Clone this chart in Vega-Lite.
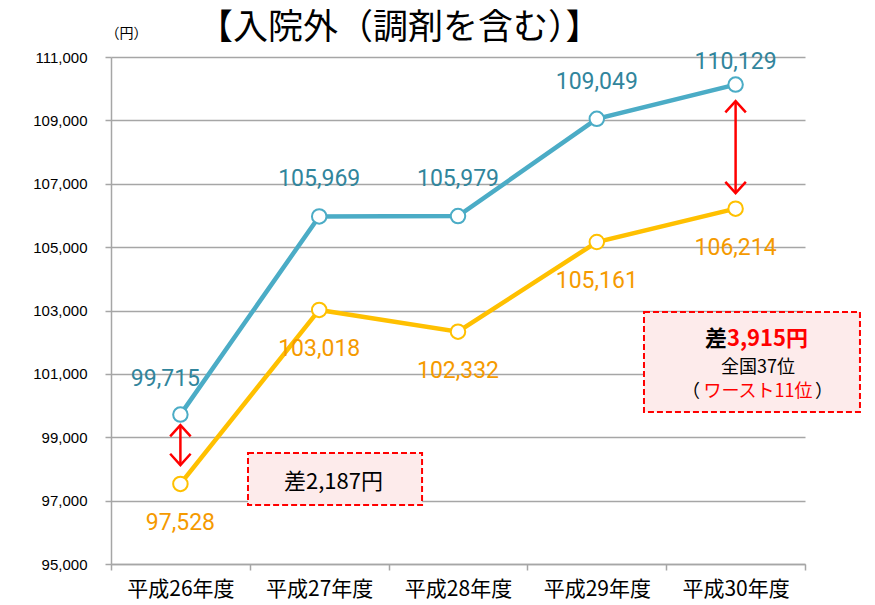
{
  "$schema": "https://vega.github.io/schema/vega-lite/v6.json",
  "width": 694,
  "height": 507,
  "autosize": "none",
  "padding": {"left": 111, "top": 57, "right": 70, "bottom": 41},
  "background": "white",
  "title": {"text": "【入院外（調剤を含む）】", "anchor": "start", "frame": "group", "dx": 87, "offset": -20, "fontSize": 35, "font": "Noto Sans CJK JP", "fontWeight": "normal", "color": "black"},
  "config": {"view": {"stroke": null}, "font": "Roboto"},
  "encoding": {
    "x": {"field": "idx", "type": "quantitative", "scale": {"domain": [-0.5, 4.5], "nice": false, "zero": false},
      "axis": {"title": null, "values": [-0.5, 0.5, 1.5, 2.5, 3.5, 4.5],
        "labelExpr": "datum.value < 0 ? '平成26年度' : datum.value < 1 ? '平成27年度' : datum.value < 2 ? '平成28年度' : datum.value < 3 ? '平成29年度' : datum.value < 4 ? '平成30年度' : ''",
        "labelOffset": 69.4, "labelFlush": false, "labelOverlap": false, "labelAlign": "center", "labelAngle": 0,
        "tickSize": 6, "tickColor": "#A6A6A6", "tickWidth": 1.5, "domainColor": "#A6A6A6", "domainWidth": 1.5,
        "labelFont": "Noto Sans CJK JP", "labelFontSize": 21, "labelColor": "black", "labelPadding": 8, "grid": false}},
    "y": {"field": "value", "type": "quantitative", "scale": {"domain": [95000, 111000], "nice": false, "zero": false},
      "axis": {"title": "（円）", "titleAngle": 0, "titleAlign": "left", "titleBaseline": "middle", "titleX": -6, "titleY": -24,
        "titleFont": "Noto Sans CJK JP", "titleFontSize": 14, "titleFontWeight": "normal", "titleColor": "black",
        "values": [95000, 97000, 99000, 101000, 103000, 105000, 107000, 109000, 111000],
        "labelExpr": "format(datum.value, ',')",
        "labelFont": "Liberation Sans", "labelFontSize": 15, "labelColor": "black",
        "labelPadding": 18, "tickSize": 6, "tickColor": "#A6A6A6", "tickWidth": 1.5, "domainColor": "#A6A6A6", "domainWidth": 1.5, "grid": true, "gridColor": "#A6A6A6", "gridWidth": 1.5}}
  },
  "layer": [
    {
      "data": {"values": [
        {"year": "平成26年度", "series": "系列1", "value": 99715},
        {"year": "平成27年度", "series": "系列1", "value": 105969},
        {"year": "平成28年度", "series": "系列1", "value": 105979},
        {"year": "平成29年度", "series": "系列1", "value": 109049},
        {"year": "平成30年度", "series": "系列1", "value": 110129},
        {"year": "平成26年度", "series": "系列2", "value": 97528},
        {"year": "平成27年度", "series": "系列2", "value": 103018},
        {"year": "平成28年度", "series": "系列2", "value": 102332},
        {"year": "平成29年度", "series": "系列2", "value": 105161},
        {"year": "平成30年度", "series": "系列2", "value": 106214}
      ]},
      "transform": [{"calculate": "indexof(['平成26年度','平成27年度','平成28年度','平成29年度','平成30年度'], datum.year)", "as": "idx"}],
      "layer": [
        {"mark": {"type": "line", "strokeWidth": 4.5},
         "encoding": {"color": {"field": "series", "type": "nominal", "scale": {"domain": ["系列1", "系列2"], "range": ["#4BACC6", "#FFC000"]}, "legend": null}}},
        {"mark": {"type": "point", "filled": true, "fill": "white", "strokeWidth": 2, "size": 210, "opacity": 1},
         "encoding": {"stroke": {"field": "series", "type": "nominal", "scale": {"domain": ["系列1", "系列2"], "range": ["#4BACC6", "#FFC000"]}, "legend": null}}},
        {"transform": [{"filter": "datum.series === '系列1' && datum.year !== '平成26年度' && datum.year !== '平成30年度'"}],
         "mark": {"type": "text", "dy": -37, "fontSize": 23, "color": "#31859C", "baseline": "middle"},
         "encoding": {"text": {"field": "value", "type": "quantitative", "format": ","}}},
        {"transform": [{"filter": "datum.series === '系列1' && datum.year === '平成26年度'"}],
         "mark": {"type": "text", "dy": -36, "dx": -15, "fontSize": 23, "color": "#31859C", "baseline": "middle"},
         "encoding": {"text": {"field": "value", "type": "quantitative", "format": ","}}},
        {"transform": [{"filter": "datum.series === '系列1' && datum.year === '平成30年度'"}],
         "mark": {"type": "text", "dy": -23, "fontSize": 23, "color": "#31859C", "baseline": "middle"},
         "encoding": {"text": {"field": "value", "type": "quantitative", "format": ","}}},
        {"transform": [{"filter": "datum.series === '系列2'"}],
         "mark": {"type": "text", "dy": 39, "fontSize": 23, "color": "#F59A00", "baseline": "middle"},
         "encoding": {"text": {"field": "value", "type": "quantitative", "format": ","}}}
      ]
    },
    {
      "data": {"values": [
        {"year": "平成26年度", "top": 99385, "bottom": 98123},
        {"year": "平成30年度", "top": 109606, "bottom": 106703}
      ]},
      "transform": [{"calculate": "indexof(['平成26年度','平成27年度','平成28年度','平成29年度','平成30年度'], datum.year)", "as": "idx"}],
      "layer": [
        {"mark": {"type": "rule", "color": "#FF0000", "strokeWidth": 2.5},
         "encoding": {"y": {"field": "top", "type": "quantitative"}, "y2": {"field": "bottom"}}},
        {"mark": {"type": "point", "shape": "M-1,1.1L0,0L1,1.1", "filled": false, "stroke": "#FF0000", "strokeWidth": 2.5, "size": 420, "opacity": 1},
         "encoding": {"y": {"field": "top", "type": "quantitative"}}},
        {"mark": {"type": "point", "shape": "M-1,-1.1L0,0L1,-1.1", "filled": false, "stroke": "#FF0000", "strokeWidth": 2.5, "size": 420, "opacity": 1},
         "encoding": {"y": {"field": "bottom", "type": "quantitative"}}}
      ]
    },
    {
      "data": {"values": [
        {"box": "差2,187円", "x1": 0.487, "x2": 1.741, "y1": 98503, "y2": 96862},
        {"box": "差3,915円", "x1": 3.34, "x2": 4.896, "y1": 102952, "y2": 99796}
      ]},
      "mark": {"type": "rect", "fill": "#FDEBEB", "stroke": "#FF0000", "strokeWidth": 2, "strokeDash": [6, 3]},
      "encoding": {
        "x": {"field": "x1", "type": "quantitative"},
        "x2": {"field": "x2"},
        "y": {"field": "y1", "type": "quantitative"},
        "y2": {"field": "y2"}
      }
    },
    {"data": {"values": [{"label": "差2,187円", "x": 1.103, "y": 97588}]},
     "mark": {"type": "text", "font": "Noto Sans CJK JP", "fontSize": 22, "color": "black", "baseline": "middle", "align": "center"},
     "encoding": {"x": {"field": "x", "type": "quantitative"}, "y": {"field": "y", "type": "quantitative"}, "text": {"field": "label"}}},
    {"data": {"values": [{"label": "差", "x": 3.938, "y": 102100}]},
     "mark": {"type": "text", "font": "Noto Sans CJK JP", "fontSize": 22, "fontWeight": "bold", "color": "black", "baseline": "middle", "align": "right"},
     "encoding": {"x": {"field": "x", "type": "quantitative"}, "y": {"field": "y", "type": "quantitative"}, "text": {"field": "label"}}},
    {"data": {"values": [{"label": "3,915円", "x": 3.938, "y": 102100}]},
     "mark": {"type": "text", "font": "Noto Sans CJK JP", "fontSize": 22, "fontWeight": "bold", "color": "#FF0000", "baseline": "middle", "align": "left"},
     "encoding": {"x": {"field": "x", "type": "quantitative"}, "y": {"field": "y", "type": "quantitative"}, "text": {"field": "label"}}},
    {"data": {"values": [{"label": "全国37位", "x": 4.161, "y": 101200}]},
     "mark": {"type": "text", "font": "Noto Sans CJK JP", "fontSize": 18, "color": "black", "baseline": "middle", "align": "center"},
     "encoding": {"x": {"field": "x", "type": "quantitative"}, "y": {"field": "y", "type": "quantitative"}, "text": {"field": "label"}}},
    {"data": {"values": [{"label": "ワースト11位", "x": 4.161, "y": 100440}]},
     "mark": {"type": "text", "font": "Noto Sans CJK JP", "fontSize": 18, "color": "#FF0000", "baseline": "middle", "align": "center"},
     "encoding": {"x": {"field": "x", "type": "quantitative"}, "y": {"field": "y", "type": "quantitative"}, "text": {"field": "label"}}},
    {"data": {"values": [{"label": "（", "x": 3.744, "y": 100440}]},
     "mark": {"type": "text", "font": "Noto Sans CJK JP", "fontSize": 18, "color": "black", "baseline": "middle", "align": "right"},
     "encoding": {"x": {"field": "x", "type": "quantitative"}, "y": {"field": "y", "type": "quantitative"}, "text": {"field": "label"}}},
    {"data": {"values": [{"label": "）", "x": 4.572, "y": 100440}]},
     "mark": {"type": "text", "font": "Noto Sans CJK JP", "fontSize": 18, "color": "black", "baseline": "middle", "align": "left"},
     "encoding": {"x": {"field": "x", "type": "quantitative"}, "y": {"field": "y", "type": "quantitative"}, "text": {"field": "label"}}}
  ]
}
